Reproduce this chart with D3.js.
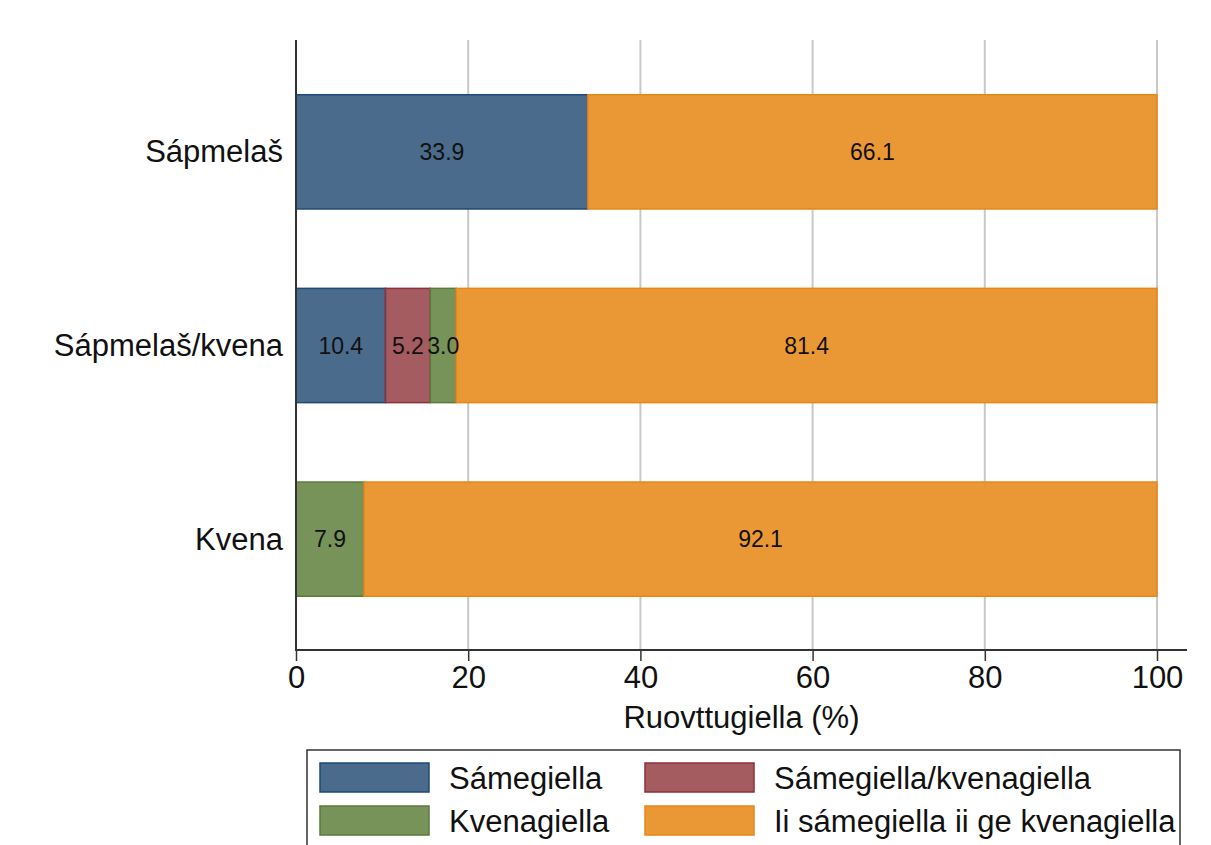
<!DOCTYPE html>
<html><head><meta charset="utf-8">
<script src="https://cdn.jsdelivr.net/npm/d3@7"></script>
<style>body{margin:0;background:#fff}svg{display:block}text{font-family:"Liberation Sans",Arial,sans-serif}</style>
</head><body>
<script>
const categories = ["Sápmelaš", "Sápmelaš/kvena", "Kvena"];
const seriesNames = ["Sámegiella", "Sámegiella/kvenagiella", "Kvenagiella", "Ii sámegiella ii ge kvenagiella"];
const sameValues = [33.9, 10.4, 0];
const sameKvenaValues = [0, 5.2, 0];
const kvenaValues = [0, 3.0, 7.9];
const noneValues = [66.1, 81.4, 92.1];
const xTicks = [0, 20, 40, 60, 80, 100];
const fills = ["#4a6b8b", "#a55c61", "#77935a", "#ea9836"];
const strokes = ["#1e4a75", "#8f2f38", "#5a7a3a", "#e8861a"];

const W = 1211, H = 845;
const svg = d3.select("body").append("svg").attr("width", W).attr("height", H);
const x = d3.scaleLinear().domain([0, 100]).range([296, 1157]);
const y = d3.scaleBand().domain(categories).range([56, 635]).paddingInner(0.41).paddingOuter(0.2);

// gridlines
svg.append("g").selectAll("line").data(xTicks.filter(d => d > 0)).join("line")
  .attr("x1", d => x(d)).attr("x2", d => x(d)).attr("y1", 40).attr("y2", 650)
  .attr("stroke", "#c8c8c8").attr("stroke-width", 2);

const series = [sameValues, sameKvenaValues, kvenaValues, noneValues];
const rows = categories.map((c, i) => {
  let acc = 0;
  return series.map((s, k) => { const v = s[i]; const r = {c, k, v, x0: acc, x1: acc + v}; acc += v; return r; });
});
const segs = rows.flat().filter(d => d.v > 0);
const g = svg.append("g");
g.selectAll("rect").data(segs).join("rect")
  .attr("x", d => x(d.x0)).attr("width", d => x(d.x1) - x(d.x0))
  .attr("y", d => y(d.c)).attr("height", y.bandwidth())
  .attr("fill", d => fills[d.k]).attr("stroke", d => strokes[d.k]).attr("stroke-width", 1.5);
g.selectAll("text").data(segs).join("text")
  .attr("x", d => (x(d.x0) + x(d.x1)) / 2).attr("y", d => y(d.c) + y.bandwidth() / 2)
  .attr("text-anchor", "middle").attr("dominant-baseline", "central")
  .attr("font-size", 23).attr("fill", "#111").text(d => d.v.toFixed(1));

// y axis
svg.append("line").attr("x1", 296).attr("x2", 296).attr("y1", 40).attr("y2", 650).attr("stroke", "#333").attr("stroke-width", 2);
svg.append("g").selectAll("text").data(categories).join("text")
  .attr("x", 283).attr("y", d => y(d) + y.bandwidth() / 2)
  .attr("text-anchor", "end").attr("dominant-baseline", "central").attr("font-size", 31).attr("fill", "#111").text(d => d);

// x axis
const xa = svg.append("g").attr("transform", "translate(0,650)")
  .call(d3.axisBottom(x).tickValues(xTicks).tickSize(11).tickPadding(5).tickFormat(d3.format("d")));
xa.select(".domain").remove();
xa.selectAll(".tick line").attr("stroke", "#333").attr("stroke-width", 1.5);
xa.selectAll(".tick text").attr("font-size", 31).attr("fill", "#111").attr("font-family", "Liberation Sans, Arial, sans-serif");
svg.append("line").attr("x1", 295).attr("x2", 1187).attr("y1", 650).attr("y2", 650).attr("stroke", "#333").attr("stroke-width", 2);
svg.append("text").attr("x", (296 + 1187) / 2).attr("y", 728).attr("text-anchor", "middle").attr("font-size", 31).attr("fill", "#111").text("Ruovttugiella (%)");

// legend
const lg = svg.append("g");
lg.append("rect").attr("x", 307).attr("y", 750).attr("width", 873).attr("height", 110).attr("fill", "#fff").attr("stroke", "#333").attr("stroke-width", 1.5);
const pos = [[320, 763], [645, 763], [320, 806], [645, 806]];
seriesNames.forEach((n, i) => {
  lg.append("rect").attr("x", pos[i][0]).attr("y", pos[i][1]).attr("width", 109).attr("height", 29)
    .attr("fill", fills[i]).attr("stroke", strokes[i]).attr("stroke-width", 1.5);
  lg.append("text").attr("x", pos[i][0] + 129).attr("y", pos[i][1] + 15).attr("dominant-baseline", "central")
    .attr("font-size", 31).attr("fill", "#111").text(n);
});
</script>
</body></html>
